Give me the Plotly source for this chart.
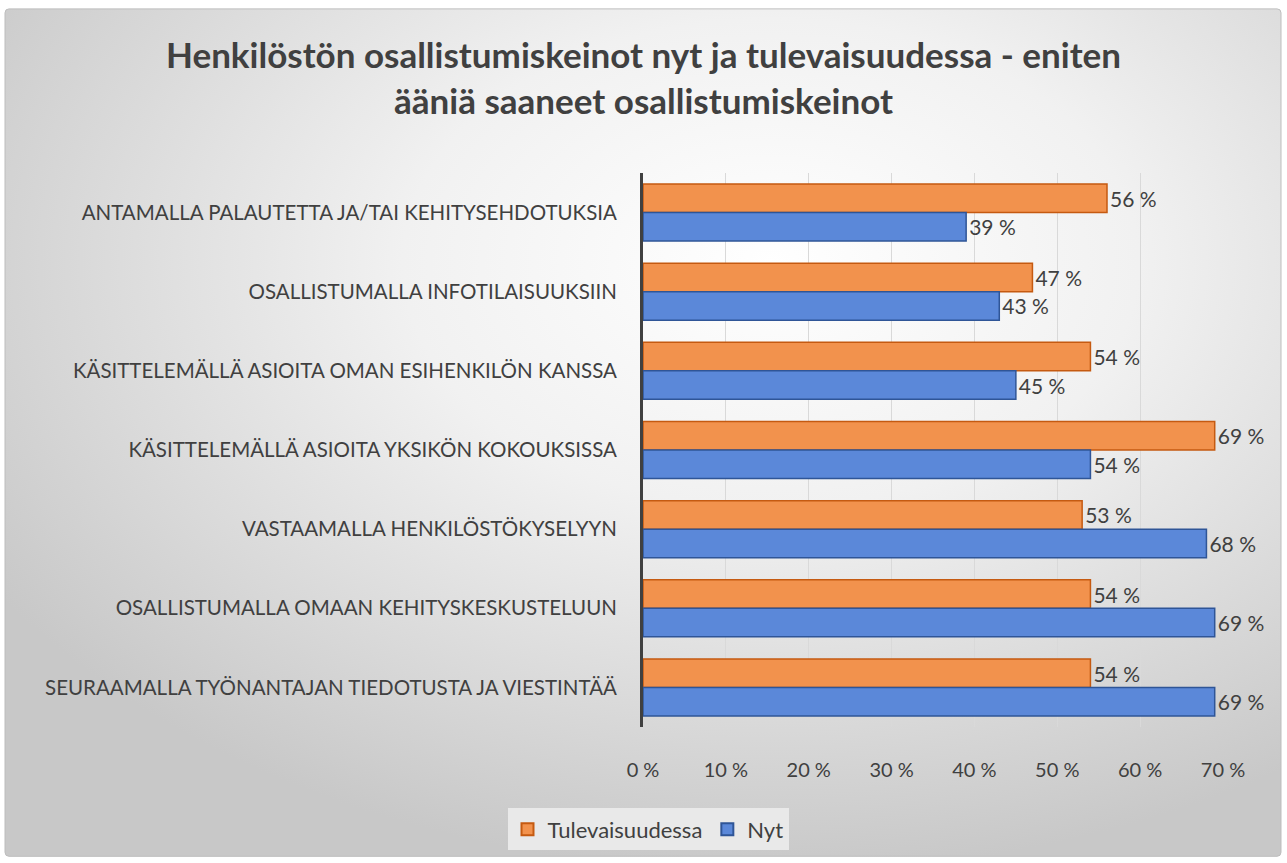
import plotly.graph_objects as go
import urllib.parse

categories = [
    "ANTAMALLA PALAUTETTA JA/TAI KEHITYSEHDOTUKSIA",
    "OSALLISTUMALLA INFOTILAISUUKSIIN",
    "KÄSITTELEMÄLLÄ ASIOITA OMAN ESIHENKILÖN KANSSA",
    "KÄSITTELEMÄLLÄ ASIOITA YKSIKÖN KOKOUKSISSA",
    "VASTAAMALLA HENKILÖSTÖKYSELYYN",
    "OSALLISTUMALLA OMAAN KEHITYSKESKUSTELUUN",
    "SEURAAMALLA TYÖNANTAJAN TIEDOTUSTA JA VIESTINTÄÄ",
]
tulevaisuudessa = [56, 47, 54, 69, 53, 54, 54]
nyt = [39, 43, 45, 54, 68, 69, 69]
tick_values = [0, 10, 20, 30, 40, 50, 60, 70]
tick_labels = [f"{t} %" for t in tick_values]

FONT = "Lato"
TXT = "#404040"
W, H = 1287, 863
ML, MR, MT, MB = 643, 64, 173, 133
PW, PH = W - ML - MR, H - MT - MB

svg = (
    f"<svg xmlns='http://www.w3.org/2000/svg' width='{W}' height='{H}'>"
    "<defs><radialGradient id='g' cx='0.6' cy='0.3' r='0.72'>"
    "<stop offset='0' stop-color='#ffffff'/>"
    "<stop offset='0.4' stop-color='#f1f1f1'/>"
    "<stop offset='1' stop-color='#c8c8c8'/>"
    "</radialGradient></defs>"
    f"<rect x='0' y='0' width='{W}' height='{H}' fill='#ffffff'/>"
    "<rect x='5' y='8' width='1276' height='852' rx='4' fill='url(#g)' stroke='#bdbdbd' stroke-width='1'/>"
    "</svg>"
)
bg_uri = "data:image/svg+xml;charset=utf-8," + urllib.parse.quote(svg)

fig = go.Figure()
fig.add_trace(go.Bar(
    name="Tulevaisuudessa", y=categories, x=tulevaisuudessa, orientation="h",
    marker=dict(color="#F2924D", line=dict(color="#C55A11", width=1.5)),
    text=[f"{v} %" for v in tulevaisuudessa], textposition="outside",
    textfont=dict(family=FONT, size=21, color=TXT), cliponaxis=False,
))
fig.add_trace(go.Bar(
    name="Nyt", y=categories, x=nyt, orientation="h",
    marker=dict(color="#5B88D9", line=dict(color="#2F5597", width=1.5)),
    text=[f"{v} %" for v in nyt], textposition="outside",
    textfont=dict(family=FONT, size=21, color=TXT), cliponaxis=False,
))

fig.update_layout(
    width=W, height=H,
    margin=dict(l=ML, r=MR, t=MT, b=MB),
    paper_bgcolor="rgba(0,0,0,0)",
    plot_bgcolor="rgba(0,0,0,0)",
    barmode="group", bargap=0.28, bargroupgap=0.0,
    images=[dict(source=bg_uri, xref="paper", yref="paper", x=-ML / PW, y=1 + MT / PH,
                 sizex=W / PW, sizey=H / PH, xanchor="left", yanchor="top",
                 sizing="stretch", layer="below")],
    title=dict(
        text="<b>Henkilöstön osallistumiskeinot nyt ja tulevaisuudessa - eniten<br>ääniä saaneet osallistumiskeinot</b>",
        x=0.5, xref="container", xanchor="center", y=1 - 68 / H, yref="container", yanchor="middle",
        font=dict(family=FONT, size=35, color=TXT),
    ),
    font=dict(family=FONT, color=TXT),
    showlegend=True,
    legend=dict(
        orientation="h", x=(648 - ML) / PW, xanchor="center", y=-(833 - (H - MB)) / PH, yanchor="middle",
        bgcolor="#e9e9e9", font=dict(family=FONT, size=22, color=TXT),
        itemsizing="constant", traceorder="normal", itemwidth=30,
    ),
    xaxis=dict(
        range=[0, 70], tickvals=tick_values, ticktext=tick_labels,
        showgrid=True, gridcolor="#d9d9d9", gridwidth=1,
        zeroline=False, showline=False,
        tickfont=dict(family=FONT, size=20, color=TXT),
        ticklabelstandoff=29,
    ),
    yaxis=dict(
        autorange="reversed", showline=True, linecolor="#404040", linewidth=3,
        tickfont=dict(family=FONT, size=20.5, color=TXT),
        ticklabelstandoff=19, showgrid=False,
    ),
)

fig.write_html("out.html", config={"displayModeBar": False},
               post_script="document.body.style.margin='0';")
